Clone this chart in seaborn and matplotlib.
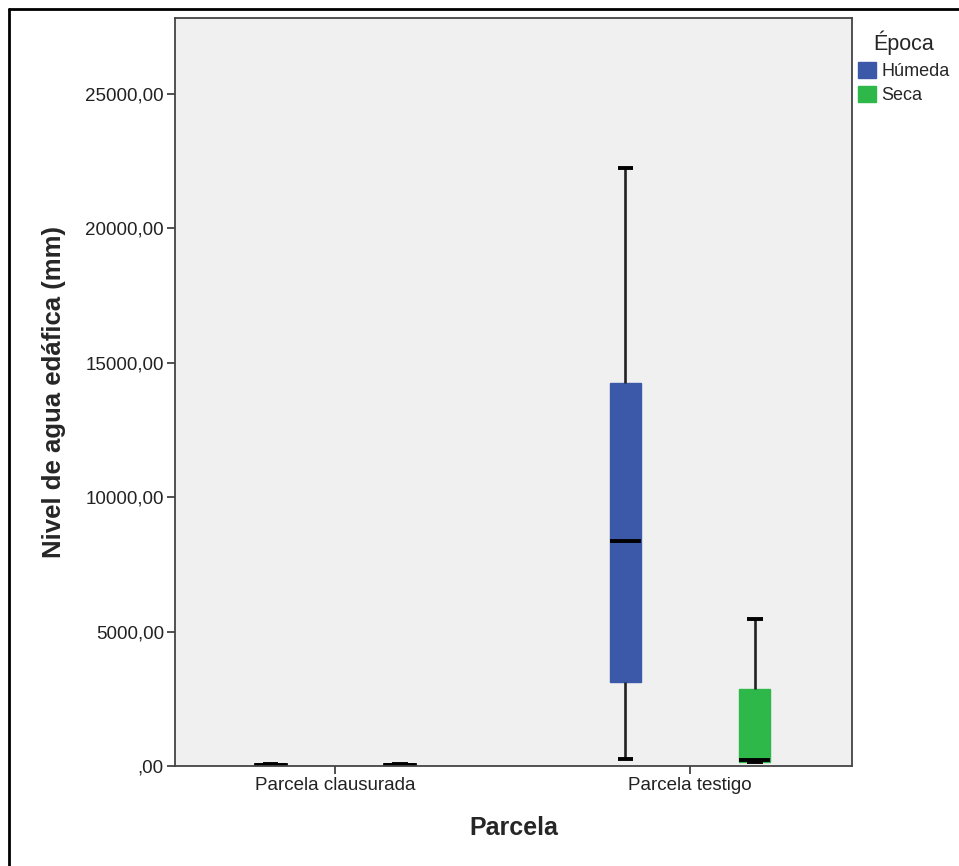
import numpy as np
import pandas as pd
import seaborn as sns
import matplotlib.pyplot as plt
from matplotlib.lines import Line2D
from matplotlib.patches import Patch
from matplotlib.ticker import FuncFormatter

parcelas = ["Parcela clausurada", "Parcela testigo"]
epocas = ["Húmeda", "Seca"]
# five-number summaries: min, Q1, median, Q3, max
clausurada_humeda = [10, 25, 40, 60, 75]
clausurada_seca = [10, 25, 40, 60, 75]
testigo_humeda = [260, 3120, 8370, 14250, 22250]
testigo_seca = [140, 160, 230, 2870, 5470]

rows = []
for p, e, vals in [("Parcela clausurada", "Húmeda", clausurada_humeda),
                   ("Parcela clausurada", "Seca", clausurada_seca),
                   ("Parcela testigo", "Húmeda", testigo_humeda),
                   ("Parcela testigo", "Seca", testigo_seca)]:
    for v in vals:
        rows.append({"Parcela": p, "Época": e, "Nivel": v})
df = pd.DataFrame(rows)

colors = {"Húmeda": "#3C58A8", "Seca": "#2EB84A"}

sns.set_style("white")
plt.rcParams["font.family"] = ["Liberation Sans", "DejaVu Sans"]

fig = plt.figure(figsize=(9.59, 8.66), dpi=100)
ax = fig.add_axes([175/959, 1 - 766/866, (852-175)/959, (766-18)/866])
ax.set_facecolor("#F0F0F0")

sns.boxplot(data=df, x="Parcela", y="Nivel", hue="Época", order=parcelas,
            hue_order=epocas, palette=colors, whis=np.inf, width=0.73, gap=0.76,
            linecolor="black", linewidth=1.8, saturation=1, ax=ax, legend=False,
            medianprops=dict(linewidth=2.8, color="black", solid_capstyle="butt"),
            capprops=dict(linewidth=2.8, color="black", solid_capstyle="butt"),
            whiskerprops=dict(linewidth=1.9, color="#222222"))

for patch in ax.patches:
    ext = patch.get_path().get_extents(patch.get_patch_transform() + patch.get_data_transform()) \
        if hasattr(patch, "get_patch_transform") else None
    h = patch.get_window_extent().height
    if h < 3:
        patch.set_edgecolor("black")
        patch.set_linewidth(2.0)
    else:
        patch.set_edgecolor(patch.get_facecolor())
        patch.set_linewidth(1.0)

ax.set_xlim(-0.451, 1.456)
ax.set_ylim(0, 27830)
ax.set_yticks([0, 5000, 10000, 15000, 20000, 25000])
ax.yaxis.set_major_formatter(FuncFormatter(lambda v, p: ",00" if v == 0 else f"{int(v)},00"))
ax.tick_params(axis="both", which="major", length=6, width=1.2, color="#333333",
               labelsize=13.5, labelcolor="#222222", left=True, bottom=True, pad=2)
for s in ax.spines.values():
    s.set_color("#444444")
    s.set_linewidth(1.3)

ax.set_xlabel("Parcela", fontsize=18, fontweight="bold", labelpad=16)
ax.set_ylabel("Nivel de agua edáfica (mm)", fontsize=18.5, fontweight="bold", labelpad=14)

handles = [Patch(facecolor=colors[e], edgecolor=colors[e]) for e in epocas]
leg = fig.legend(handles, epocas, title="Época", loc="upper left",
                 bbox_to_anchor=(847/959, 1 - 20/866), frameon=False,
                 fontsize=13, title_fontsize=15.5, handlelength=1.0, handleheight=1.0,
                 handletextpad=0.3, labelspacing=0.35, borderaxespad=0.2)

# outer frame (left and top edges visible)
fig.add_artist(Line2D([9/959, 9/959], [0, 1 - 9/866], transform=fig.transFigure,
                      color="black", linewidth=2))
fig.add_artist(Line2D([9/959, 1], [1 - 9/866, 1 - 9/866], transform=fig.transFigure,
                      color="black", linewidth=2))

fig.savefig("out.png", dpi=100)
